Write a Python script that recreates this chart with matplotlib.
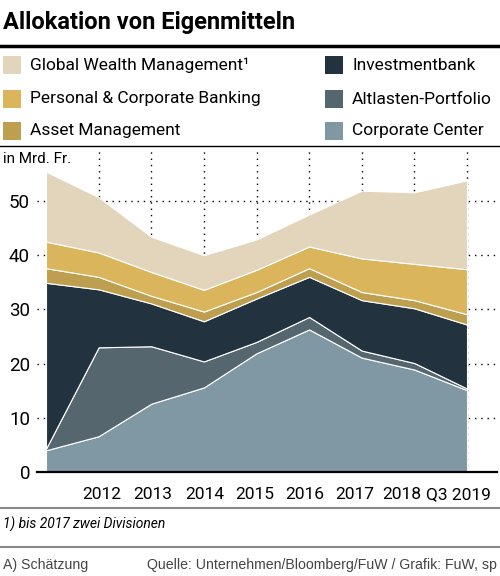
import matplotlib
matplotlib.use('Agg')
import matplotlib.pyplot as plt
import matplotlib.transforms as mtransforms
from matplotlib.lines import Line2D
from matplotlib.patches import Rectangle

plt.rcParams['font.family'] = ['Roboto', 'DejaVu Sans']

# Daten (in Mrd. Fr.), von unten nach oben gestapelt
periods = ['2011', '2012', '2013', '2014', '2015', '2016', '2017', '2018', 'Q3 2019']
tick_labels = ['2012', '2013', '2014', '2015', '2016', '2017', '2018', 'Q3 2019']
corporate_center = [4.0, 6.6, 12.6, 15.6, 21.9, 26.3, 21.1, 18.9, 15.1]
altlasten = [0.3, 16.4, 10.6, 4.8, 2.1, 2.3, 1.3, 1.2, 0.3]
investmentbank = [30.6, 10.7, 7.9, 7.4, 8.0, 7.4, 9.3, 10.1, 11.8]
asset_mgmt = [2.7, 2.3, 1.4, 1.8, 1.2, 1.6, 1.5, 1.5, 1.9]
pcb = [4.9, 4.5, 4.4, 4.0, 4.1, 4.0, 6.2, 6.7, 8.3]
gwm = [12.9, 10.2, 6.5, 6.4, 5.6, 5.9, 12.5, 13.2, 16.4]

col_gwm = '#e3d5bb'
col_pcb = '#dab55c'
col_am = '#be9e4f'
col_ib = '#22333f'
col_alt = '#55666f'
col_cc = '#8098a4'

fig = plt.figure(figsize=(5, 5.76), dpi=100)
H = 576.0
W = 500.0

# Titel
fig.text(3 / W, 1 - 23 / H, 'Allokation von Eigenmitteln', fontsize=17,
         fontweight='bold', va='center', ha='left')
fig.add_artist(Line2D([0, 1], [1 - 46 / H] * 2, color='black', lw=2.5,
                      transform=fig.transFigure))

# Legende (manuell)
legend_items = [('Global Wealth Management¹', col_gwm),
                ('Personal & Corporate Banking', col_pcb),
                ('Asset Management', col_am),
                ('Investmentbank', col_ib),
                ('Altlasten-Portfolio', col_alt),
                ('Corporate Center', col_cc)]
row_y = [65, 99, 131]
col_x = [3, 325]
for i, (name, c) in enumerate(legend_items):
    cx = col_x[i // 3]
    ry = row_y[i % 3]
    fig.add_artist(Rectangle((cx / W, 1 - (ry + 9) / H), 18 / W, 18 / H,
                             facecolor=c, edgecolor='none',
                             transform=fig.transFigure))
    fig.text((cx + 27) / W, 1 - ry / H, name, fontsize=12.5, va='center', ha='left')
fig.add_artist(Line2D([0, 1], [1 - 146 / H] * 2, color='black', lw=1,
                      transform=fig.transFigure))

fig.text(3 / W, 1 - 159 / H, 'in Mrd. Fr.', fontsize=11, va='center', ha='left')

# Diagramm
ax = fig.add_axes([37 / W, 1 - 472 / H, 460 / W, 322 / H])
x = list(range(len(periods)))
ax.stackplot(x, corporate_center, altlasten, investmentbank, asset_mgmt, pcb, gwm,
             colors=[col_cc, col_alt, col_ib, col_am, col_pcb, col_gwm],
             edgecolor='white', linewidth=0.8, zorder=2)

ax.set_xlim(-0.171, 8.57)
ax.set_ylim(0, 59.4)
ax.set_xticks(range(1, len(periods)))
ax.set_xticklabels(tick_labels, fontsize=12.5)
ax.set_yticks([0, 10, 20, 30, 40, 50])
ax.set_yticklabels(['0', '10', '20', '30', '40', '50'], fontsize=13.5)
ax.tick_params(axis='both', length=0)
ax.tick_params(axis='x', pad=11)
ax.tick_params(axis='y', pad=5)

# Beschriftungen leicht verschoben wie im Original
shifts = [3.5, 1, 0.5, -2, -4, -7.5, -13, -8.5]
for lab, dx in zip(ax.get_xticklabels(), shifts):
    lab.set_transform(lab.get_transform() +
                      mtransforms.ScaledTranslation(dx / 100, 0, fig.dpi_scale_trans))

ax.set_axisbelow(True)
ax.grid(True, color='black', linestyle=(0, (1, 3.5)), linewidth=1)
for s in ['top', 'right', 'left']:
    ax.spines[s].set_visible(False)
ax.spines['bottom'].set_linewidth(1.6)
ax.spines['bottom'].set_zorder(3)

# Fussnoten
fig.add_artist(Line2D([0, 1], [1 - 508 / H] * 2, color='#888888', lw=1.5,
                      transform=fig.transFigure))
fig.text(3 / W, 1 - 524 / H, '1) bis 2017 zwei Divisionen', fontsize=10,
         style='italic', va='center', ha='left')
fig.add_artist(Line2D([0, 1], [1 - 547 / H] * 2, color='#888888', lw=1.5,
                      transform=fig.transFigure))
fig.text(3 / W, 1 - 565 / H, 'A) Schätzung', fontsize=10.2, color='#444444',
         family=['Liberation Sans', 'DejaVu Sans'], va='center', ha='left')
fig.text(497 / W, 1 - 565 / H, 'Quelle: Unternehmen/Bloomberg/FuW / Grafik: FuW, sp',
         fontsize=10.2, color='#444444', family=['Liberation Sans', 'DejaVu Sans'],
         va='center', ha='right')

fig.savefig('out.png', dpi=100)
